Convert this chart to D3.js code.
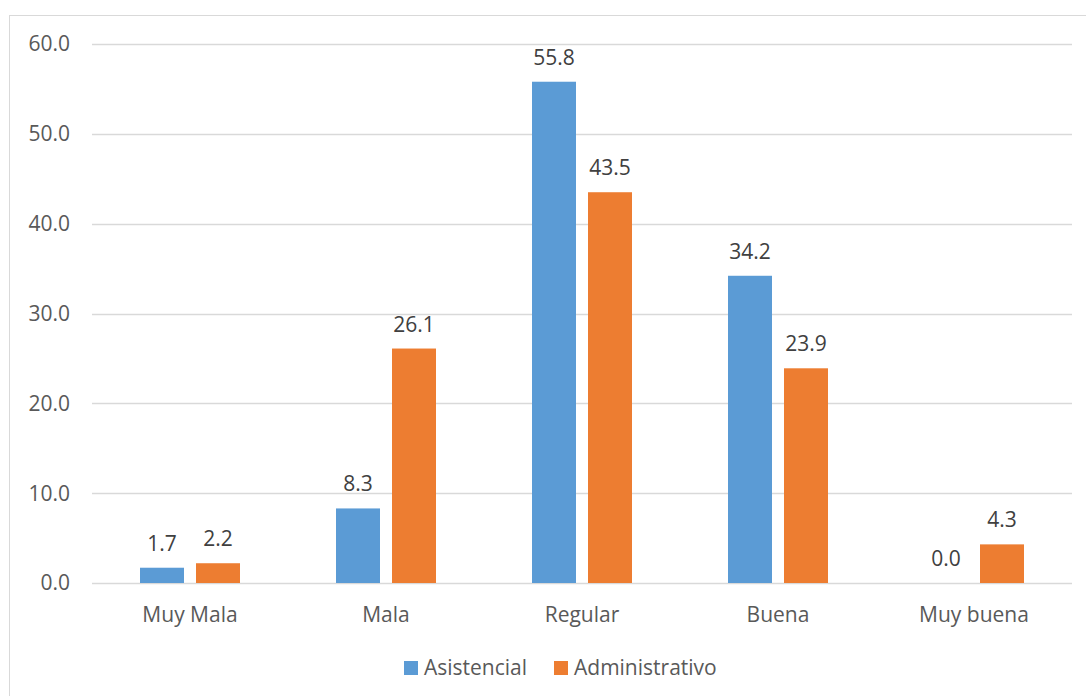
<!DOCTYPE html>
<html>
<head>
<meta charset="utf-8">
<script src="https://cdn.jsdelivr.net/npm/d3@7"></script>
<style>
  html, body { margin: 0; padding: 0; background: #fff; }
  svg { display: block; }
  text { font-family: "Open Sans", "Noto Sans", sans-serif; }
</style>
</head>
<body>
<svg id="chart" width="1086" height="696"></svg>
<script>
// Survey results by category and staff group
const categories = ["Muy Mala", "Mala", "Regular", "Buena", "Muy buena"];
const seriesNames = ["Asistencial", "Administrativo"];
const asistencial = [1.7, 8.3, 55.8, 34.2, 0.0];
const administrativo = [2.2, 26.1, 43.5, 23.9, 4.3];
const yTicks = [0, 10, 20, 30, 40, 50, 60];
const colors = ["#5B9BD5", "#ED7D31"];

const svg = d3.select("#chart");
const FS = 21;

// outer chart frame
svg.append("rect")
  .attr("x", 9.5).attr("y", 15.5)
  .attr("width", 1090).attr("height", 700)
  .attr("fill", "#fff").attr("stroke", "#D9D9D9").attr("stroke-width", 1);

const plot = { left: 92, right: 1072, top: 44, bottom: 583 };

const x = d3.scaleBand().domain(categories).range([plot.left, plot.right]);
const y = d3.scaleLinear().domain([0, 60]).range([plot.bottom, plot.top]);

// gridlines
svg.append("g").selectAll("line").data(yTicks).join("line")
  .attr("x1", plot.left).attr("x2", plot.right)
  .attr("y1", d => Math.round(y(d)) + 0.5).attr("y2", d => Math.round(y(d)) + 0.5)
  .attr("stroke", "#D9D9D9").attr("stroke-width", 1.3);

// y-axis tick labels
svg.append("g").selectAll("text").data(yTicks).join("text")
  .attr("x", 70).attr("y", d => y(d)).attr("dy", "0.35em")
  .attr("text-anchor", "end").attr("font-size", FS).attr("fill", "#595959")
  .text(d => d.toFixed(1));

// category labels
svg.append("g").selectAll("text").data(categories).join("text")
  .attr("x", d => x(d) + x.bandwidth() / 2).attr("y", 622)
  .attr("text-anchor", "middle").attr("font-size", FS).attr("fill", "#595959")
  .text(d => d);

// bars within each category band
const barW = 44, gap = 12;
const inner = d3.scaleBand().domain(seriesNames)
  .range([0, barW * 2 + gap]).paddingInner(gap / (barW + gap)).paddingOuter(0);
const offset = (x.bandwidth() - (barW * 2 + gap)) / 2;

const series = [asistencial, administrativo];
series.forEach((vals, si) => {
  const g = svg.append("g");
  const data = categories.map((c, i) => ({ c, v: vals[i] }));
  g.selectAll("rect").data(data).join("rect")
    .attr("x", d => x(d.c) + offset + inner(seriesNames[si]))
    .attr("width", inner.bandwidth())
    .attr("y", d => y(d.v))
    .attr("height", d => y(0) - y(d.v))
    .attr("fill", colors[si]);
  g.selectAll("text").data(data).join("text")
    .attr("x", d => x(d.c) + offset + inner(seriesNames[si]) + inner.bandwidth() / 2)
    .attr("y", d => y(d.v) - 17)
    .attr("text-anchor", "middle").attr("font-size", FS).attr("fill", "#404040")
    .text(d => d.v.toFixed(1));
});

// legend
const legendX = [404, 554];
const lg = svg.append("g");
seriesNames.forEach((name, i) => {
  lg.append("rect").attr("x", legendX[i]).attr("y", 661)
    .attr("width", 14).attr("height", 14).attr("fill", colors[i]);
  lg.append("text").attr("x", legendX[i] + 20).attr("y", 675)
    .attr("font-size", FS).attr("fill", "#595959").text(name);
});
</script>
</body>
</html>
